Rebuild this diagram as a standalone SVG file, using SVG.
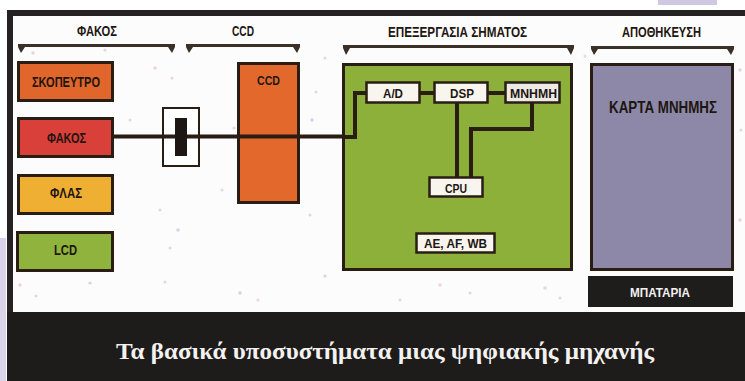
<svg xmlns="http://www.w3.org/2000/svg" width="745" height="381" viewBox="0 0 745 381">
<style>
.lbl{font-family:"Liberation Sans",Arial,sans-serif;font-weight:bold;fill:#1e1611;text-anchor:middle}
.hdr{font-size:14px}
.box{stroke:#2a1d14;stroke-width:3}
.sub{fill:#f7f5ee;stroke:#2a1d14;stroke-width:2.5}
.ln{fill:none;stroke:#2a1d14;stroke-width:4;stroke-linejoin:miter}
.br{fill:#3a3028}
.dot{fill:#c98a9a;opacity:0.35}
.dotb{fill:#8a8ab5;opacity:0.35}
</style>
<rect x="0" y="0" width="745" height="381" fill="#ffffff"/>
<rect x="658" y="0" width="59" height="5" fill="#cfc8e2"/>
<rect x="0" y="238" width="6" height="143" fill="#d9d4ea"/>
<rect x="7" y="10" width="738" height="371" fill="#fdfcfc"/>
<rect x="7" y="10" width="738" height="6" fill="#262222"/>
<rect x="7" y="10" width="6" height="371" fill="#262222"/>
<rect x="7" y="312" width="738" height="69" fill="#1e1b1b"/>

<g id="speckles">
<circle class="dot" cx="33" cy="53" r="1.8"/><circle class="dot" cx="105" cy="50" r="1.6"/>
<circle class="dot" cx="155" cy="68" r="1.8"/><circle class="dot" cx="172" cy="78" r="1.6"/>
<circle class="dot" cx="130" cy="120" r="1.5"/><circle class="dotb" cx="312" cy="120" r="1.8"/>
<circle class="dot" cx="316" cy="92" r="1.6"/><circle class="dot" cx="234" cy="128" r="1.6"/>
<circle class="dot" cx="160" cy="210" r="1.6"/><circle class="dotb" cx="178" cy="230" r="1.8"/>
<circle class="dot" cx="170" cy="248" r="1.6"/><circle class="dot" cx="20" cy="285" r="1.8"/>
<circle class="dot" cx="36" cy="296" r="1.6"/><circle class="dotb" cx="90" cy="283" r="1.6"/>
<circle class="dot" cx="165" cy="282" r="1.6"/><circle class="dotb" cx="240" cy="293" r="1.8"/>
<circle class="dot" cx="258" cy="300" r="1.6"/><circle class="dotb" cx="325" cy="276" r="1.6"/>
<circle class="dot" cx="310" cy="215" r="1.6"/><circle class="dot" cx="222" cy="190" r="1.5"/>
<circle class="dot" cx="440" cy="285" r="1.8"/><circle class="dot" cx="470" cy="293" r="1.6"/>
<circle class="dot" cx="545" cy="288" r="1.8"/><circle class="dot" cx="560" cy="298" r="1.6"/>
<circle class="dot" cx="400" cy="300" r="1.5"/><circle class="dot" cx="740" cy="70" r="1.8"/>
<circle class="dot" cx="741" cy="130" r="1.6"/><circle class="dot" cx="740" cy="220" r="1.8"/>
<circle class="dot" cx="585" cy="56" r="1.5"/><circle class="dot" cx="325" cy="58" r="1.6"/>
</g>

<g id="headers">
<text class="lbl hdr" x="97" y="36" textLength="40" lengthAdjust="spacingAndGlyphs">ΦΑΚΟΣ</text>
<text class="lbl hdr" x="243" y="36" textLength="22" lengthAdjust="spacingAndGlyphs">CCD</text>
<text class="lbl hdr" x="457.5" y="37" textLength="139" lengthAdjust="spacingAndGlyphs">ΕΠΕΞΕΡΓΑΣΙΑ ΣΗΜΑΤΟΣ</text>
<text class="lbl hdr" x="661.5" y="37" textLength="79" lengthAdjust="spacingAndGlyphs">ΑΠΟΘΗΚΕΥΣΗ</text>
</g>

<g id="brackets">
<path class="br" d="M18,44 H175 V47 L172,53 L168,47 H25 L21,53 L18,47 Z"/>
<path class="br" d="M186,44 H300 V47 L297,53 L293,47 H193 L189,53 L186,47 Z"/>
<path class="br" d="M343,45 H574 V48 L571,55 L567,48 H350 L346,55 L343,48 Z"/>
<path class="br" d="M591,46 H734 V49 L731,55 L727,49 H598 L594,55 L591,49 Z"/>
</g>

<g id="skopeytro">
<rect class="box" x="18.5" y="62.5" width="94" height="38" fill="#e0662c"/>
<text class="lbl" x="66" y="87" font-size="15" textLength="68" lengthAdjust="spacingAndGlyphs">ΣΚΟΠΕΥΤΡΟ</text>
</g>
<g id="fakos">
<rect class="box" x="18.5" y="118.5" width="94" height="38" fill="#d9403a"/>
<text class="lbl" x="66.5" y="143" font-size="14" textLength="39" lengthAdjust="spacingAndGlyphs">ΦΑΚΟΣ</text>
</g>
<g id="flas">
<rect class="box" x="18.5" y="175.5" width="94" height="38" fill="#efaf33"/>
<text class="lbl" x="66" y="198" font-size="14" textLength="32" lengthAdjust="spacingAndGlyphs">ΦΛΑΣ</text>
</g>
<g id="lcd">
<rect class="box" x="17.5" y="232.5" width="95" height="38" fill="#8fb33c"/>
<text class="lbl" x="65.5" y="255" font-size="14" textLength="23" lengthAdjust="spacingAndGlyphs">LCD</text>
</g>

<g id="ccd">
<rect class="box" x="238.5" y="63.5" width="60" height="139" fill="#e2692b"/>
<text class="lbl" x="268.5" y="85" font-size="13" textLength="23" lengthAdjust="spacingAndGlyphs">CCD</text>
</g>

<g id="processing">
<rect class="box" x="343.5" y="64.5" width="228" height="205" fill="#8cb03a"/>
</g>

<g id="connectors">
<path class="ln" d="M113,136.5 H343"/>
<path class="ln" d="M343,137 H355 V93 H366"/>
<path class="ln" d="M420,93 H434"/>
<path class="ln" d="M488,93 H505"/>
<path class="ln" d="M457,103 V177"/>
<path class="ln" d="M532,103 V129 H471 V177"/>
</g>

<g id="shutter">
<rect x="163" y="108" width="36" height="58" fill="#ffffff" stroke="#2a1d14" stroke-width="2"/>
<line x1="163" y1="136.5" x2="199" y2="136.5" stroke="#2a1d14" stroke-width="4"/>
<rect x="175" y="118" width="12" height="38" fill="#1e1613"/>
</g>

<g id="ad">
<rect class="sub" x="366.5" y="82.5" width="53" height="20"/>
<text class="lbl" x="393" y="98" font-size="13" textLength="20" lengthAdjust="spacingAndGlyphs">A/D</text>
</g>
<g id="dsp">
<rect class="sub" x="434.5" y="82.5" width="53" height="20"/>
<text class="lbl" x="462" y="98" font-size="13" textLength="24" lengthAdjust="spacingAndGlyphs">DSP</text>
</g>
<g id="mnimi">
<rect class="sub" x="505.5" y="82.5" width="54" height="20" style="fill:#ecebe6"/>
<text class="lbl" x="533.5" y="98" font-size="13" textLength="47" lengthAdjust="spacingAndGlyphs">ΜΝΗΜΗ</text>
</g>
<g id="cpu">
<rect class="sub" x="429.5" y="177.5" width="53" height="19"/>
<text class="lbl" x="456" y="193" font-size="13" textLength="22" lengthAdjust="spacingAndGlyphs">CPU</text>
</g>
<g id="aeafwb">
<rect class="sub" x="416.5" y="233.5" width="78" height="19"/>
<text class="lbl" x="455.5" y="248" font-size="13" textLength="63" lengthAdjust="spacingAndGlyphs">AE, AF, WB</text>
</g>

<g id="karta">
<rect class="box" x="591.5" y="64.5" width="141" height="205" fill="#8d88a8"/>
<text class="lbl" x="663" y="113" font-size="17" textLength="108" lengthAdjust="spacingAndGlyphs">ΚΑΡΤΑ ΜΝΗΜΗΣ</text>
</g>
<g id="mpataria">
<rect x="588" y="276" width="145" height="31" fill="#1f1c1c"/>
<text class="lbl" x="660" y="297" font-size="13" style="fill:#f2f0f0" textLength="60" lengthAdjust="spacingAndGlyphs">ΜΠΑΤΑΡΙΑ</text>
</g>

<g id="caption">
<text x="385" y="359" font-family="'Liberation Serif','DejaVu Serif',serif" font-size="23" font-weight="bold" fill="#f4f2f0" text-anchor="middle" textLength="538" lengthAdjust="spacingAndGlyphs">Τα βασικά υποσυστήματα μιας ψηφιακής μηχανής</text>
</g>
</svg>
